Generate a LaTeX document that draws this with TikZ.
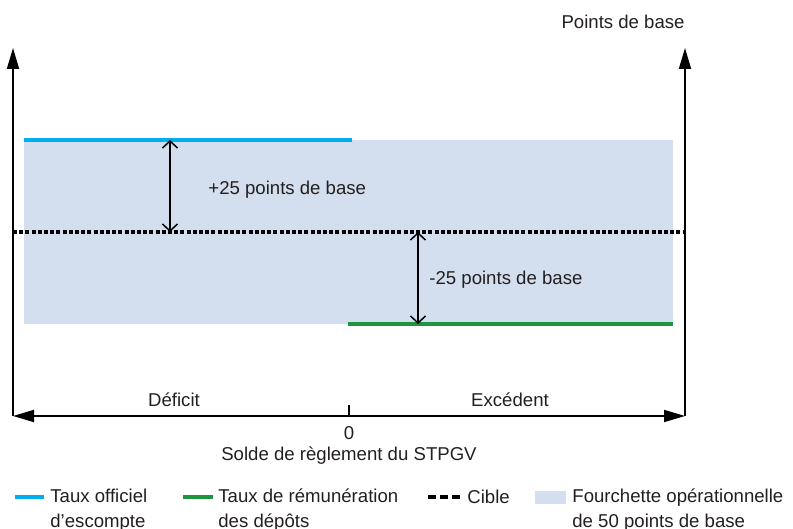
\documentclass[tikz,border=0pt]{standalone}
\usepackage{fontspec}
\setmainfont{Liberation Sans}
\usetikzlibrary{arrows.meta}
\definecolor{bande}{RGB}{211,223,239}
\definecolor{escompte}{RGB}{0,174,239}
\definecolor{depots}{RGB}{30,148,62}
\definecolor{texte}{RGB}{35,31,32}

\begin{document}
\begin{tikzpicture}[x = 0.5pt, y = -0.5pt,
		every node/.style = {inner sep = 0pt, text = texte, font = \fontsize{9.3}{12.8}\selectfont},
		axe/.style = {line width = 0.9pt, -{Triangle[length = 10.5pt, width = 6pt]}},
		ecart/.style = {line width = 0.75pt, {Straight Barb[length = 3.5pt, width = 7.5pt]}-{Straight Barb[length = 3.5pt, width = 7.5pt]}},
		taux/.style = {line width = 2pt},
		cible/.style = {line width = 1.6pt, dash pattern = on 2pt off 1.1pt}]
		\useasboundingbox (0, 0) rectangle (793, 529);
		%%%%%%%%%%%%%
		\coordinate (lb) at (13, 416); \coordinate (lt) at (13, 48);
		\coordinate (rb) at (685, 416); \coordinate (rt) at (685, 48);
		\coordinate (o) at (349, 416); \coordinate (ot) at (349, 405);
		\coordinate (ca) at (13, 232); \coordinate (cb) at (685, 232);
		\coordinate (ea) at (24, 140); \coordinate (eb) at (352, 140);
		\coordinate (da) at (348, 324); \coordinate (db) at (673, 324);
		\coordinate (p1) at (170, 140); \coordinate (p2) at (170, 232);
		\coordinate (m1) at (418, 232); \coordinate (m2) at (418, 324);
		%%%%%%%%%%%%%
		\fill [bande] (ea) rectangle (db);
		\draw [taux, escompte] (ea) to (eb);
		\draw [taux, depots] (da) to (db);
		\draw [cible] (ca) to (cb);
		\draw [ecart] (p1) to (p2);
		\draw [ecart] (m1) to (m2);
		\draw [axe] (lb) to (lt);
		\draw [axe] (rb) to (rt);
		\draw [axe, {Triangle[length = 10.5pt, width = 6pt]}-{Triangle[length = 10.5pt, width = 6pt]}] (lb) to (rb);
		\draw [line width = 0.9pt] (o) to (ot);
		%%%%%%%%%%%%%
		\node (pts) [anchor = east] at (685, 22) {Points de base};
		\node (plus) [anchor = west] at (208, 190) {+25 points de base};
		\node (moins) [anchor = west] at (429, 280) {-25 points de base};
		\node (def) at (174, 400) {Déficit};
		\node (exc) at (510, 400) {Excédent};
		\node (zero) at (349, 433) {0};
		\node (solde) at (349, 456) {Solde de règlement du STPGV};
		%%%%%%%%%%%%%
		\coordinate (l1a) at (15, 497); \coordinate (l1b) at (44, 497);
		\coordinate (l2a) at (183, 497); \coordinate (l2b) at (213, 497);
		\coordinate (l3a) at (428, 497); \coordinate (l3b) at (463, 497);
		\draw [taux, escompte, line width = 1.6pt] (l1a) to (l1b);
		\draw [taux, depots, line width = 1.6pt] (l2a) to (l2b);
		\draw [line width = 1.6pt, dash pattern = on 4pt off 2pt] (l3a) to (l3b);
		\fill [bande] (535, 491) rectangle (566, 504);
		\node (lgesc) [anchor = west, align = left] at (50, 510) {Taux officiel\\d’escompte};
		\node (lgdep) [anchor = west, align = left] at (218, 510) {Taux de rémunération\\des dépôts};
		\node (lgcib) [anchor = west] at (467, 497) {Cible};
		\node (lgfou) [anchor = west, align = left] at (572, 510) {Fourchette opérationnelle\\de 50 points de base};
\end{tikzpicture}
\end{document}
